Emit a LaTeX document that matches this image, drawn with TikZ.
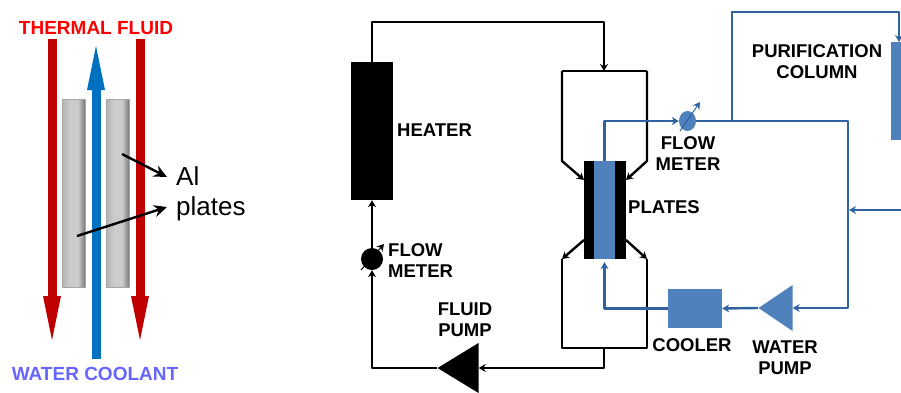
\documentclass[tikz,border=0pt]{standalone}
\usepackage{fontspec}
\setmainfont{Liberation Sans}
\usetikzlibrary{arrows.meta,shapes.geometric}
\definecolor{fillblue}{HTML}{4F81BD}
\definecolor{lineblue}{HTML}{2F629F}
\definecolor{hotred}{HTML}{C00000}
\definecolor{coldblue}{HTML}{0070C0}
\definecolor{coolantlabel}{HTML}{6666FF}
\pgfdeclarehorizontalshading{platemetal}{100bp}{color(0bp)=(gray!60); color(25bp)=(gray!60); color(42bp)=(gray!40); color(60bp)=(gray!40); color(75bp)=(gray!95!black); color(100bp)=(gray!95!black)}
\tikzstyle{lbl} = [font=\fontsize{18.5}{21}\selectfont\bfseries, inner sep=0pt, align=center]
\tikzstyle{solid box} = [rectangle, draw=none, inner sep=0pt]
\tikzstyle{pump} = [isosceles triangle, isosceles triangle stretches, shape border rotate=180, draw=none, inner sep=0pt, anchor=apex]
\tikzstyle{plate} = [rectangle, draw=gray!70, line width=1pt, inner sep=0pt, minimum width=23pt, minimum height=188pt, shading=platemetal]
\tikzstyle{bigarrow} = [line width=9pt, line join=miter, -{Triangle[length=44pt,width=18pt,line width=0pt]}]
\tikzstyle{pointer} = [line width=2.4pt, -{Stealth[length=13pt,width=12pt]}]
\tikzstyle{hot} = [black, line width=2.4pt]
\tikzstyle{cold} = [lineblue, line width=2.4pt]

\begin{document}
\begin{tikzpicture}[x=1pt,y=-1pt,->,>={Stealth[length=7pt,width=8pt]},line join=round]
  \clip (0,0) rectangle (901,392);

  % left sketch
  \node[plate] (plate_L) at (73.5,193) {};
  \node[plate] (plate_R) at (117.5,193) {};
  \coordinate (red_L_top) at (52,39);
  \coordinate (red_L_tip) at (52,340);
  \coordinate (red_R_top) at (140,39);
  \coordinate (red_R_tip) at (140,340);
  \coordinate (cool_low) at (96,359);
  \coordinate (cool_tip) at (96,46);
  \draw[bigarrow,hotred] (red_L_top) -- (red_L_tip);
  \draw[bigarrow,hotred] (red_R_top) -- (red_R_tip);
  \draw[bigarrow,coldblue] (cool_low) -- (cool_tip);
  \node[lbl,text=red,font=\fontsize{19}{21}\selectfont\bfseries] (thermal) at (96,28) {THERMAL FLUID};
  \node[lbl,text=coolantlabel,font=\fontsize{19}{21}\selectfont\bfseries] (coolant) at (95,374) {WATER COOLANT};
  \node[inner sep=0pt,anchor=west,align=left,font=\fontsize{26}{30}\selectfont] (al) at (176,194) {Al\\plates};
  \coordinate (al_up) at (122,154);
  \coordinate (al_low) at (77,236);
  \draw[pointer] (al_up) -- (167,177);
  \draw[pointer] (al_low) -- (167,207);

  % fluid loop
  \node[solid box,fill=black,minimum width=42pt,minimum height=138pt] (heater) at (372,131) {};
  \node[solid box,fill=black,minimum width=42pt,minimum height=98pt] (plates) at (605,210) {};
  \node[solid box,fill=fillblue,minimum width=21pt,minimum height=98pt] (plates_w) at (604.5,210) {};
  \node[circle,fill=black,inner sep=0pt,minimum size=22pt] (meter_f) at (372,259) {};
  \node[pump,fill=black,minimum width=50pt,minimum height=41pt] (pump_f) at (437,368) {};
  \coordinate (top_bend) at (604,22);
  \coordinate (man_top) at (604,71);
  \coordinate (man_tl) at (562,71);
  \coordinate (man_tr) at (647,71);
  \coordinate (man_ml) at (562,161);
  \coordinate (man_mr) at (647,161);
  \coordinate (in_l) at (584,180);
  \coordinate (in_r) at (626,180);
  \coordinate (out_l) at (584,240);
  \coordinate (out_r) at (626,240);
  \coordinate (man_bl) at (562,259);
  \coordinate (man_br) at (647,259);
  \coordinate (low_l) at (562,348);
  \coordinate (low_r) at (647,348);
  \coordinate (low_m) at (604,348);
  \coordinate (ret_bend) at (604,368);

  \draw[hot] (heater.north) |- (top_bend) -- (man_top);
  \draw[hot,-] (man_tl) -- (man_tr);
  \draw[hot] (man_tl) -- (man_ml) -- (in_l);
  \draw[hot] (man_tr) -- (man_mr) -- (in_r);
  \draw[hot] (out_l) -- (man_bl);
  \draw[hot] (out_r) -- (man_br);
  \draw[hot,-] (man_bl) -- (low_l) -- (low_r) -- (man_br);
  \draw[hot] (low_m) -- (ret_bend) -- (pump_f.east |- ret_bend);
  \draw[hot] (pump_f.apex) -| (meter_f.south);
  \draw[hot] (meter_f.north) -- (heater.south);
  \draw[black,line width=1pt] (361,270) -- (384,244);

  % water loop
  \node[solid box,fill=fillblue,minimum width=54pt,minimum height=39pt] (cooler) at (695,308.5) {};
  \node[pump,fill=fillblue,minimum width=46pt,minimum height=34pt] (pump_w) at (758,308) {};
  \node[solid box,fill=fillblue,minimum width=28pt,minimum height=98pt] (column) at (905,91) {};
  \node[ellipse,fill=fillblue,inner sep=0pt,minimum width=17pt,minimum height=20pt] (meter_w) at (687.5,121) {};
  \coordinate (split) at (732,121);
  \coordinate (far_bend) at (848,308);
  \coordinate (col_bend) at (899,12);
  \coordinate (col_in) at (899,42);
  \coordinate (col_out) at (901,210);
  \coordinate (back_in) at (849,210);
  \draw[cold] (plates_w.north) |- (meter_w.west);
  \draw[cold] (meter_w.east) -| (far_bend) -- (pump_w.east |- far_bend);
  \draw[cold] (pump_w.apex) -- (cooler.east);
  \draw[cold] (cooler.west) -| ([yshift=-3pt]plates_w.south);
  \draw[cold] (split) |- (col_bend) -- (col_in);
  \draw[cold] (col_out) -- (back_in);
  \draw[lineblue,line width=1pt] (680,131) -- (700,102);

  % labels
  \node[lbl,anchor=west] (l_heater) at (397,130) {HEATER};
  \node[lbl,anchor=west,align=left] (l_meter_f) at (388,261) {FLOW\\METER};
  \node[lbl] (l_pump_f) at (465,320) {FLUID\\PUMP};
  \node[lbl,anchor=west] (l_plates) at (628,207) {PLATES};
  \node[lbl] (l_meter_w) at (688,154) {FLOW\\METER};
  \node[lbl] (l_column) at (817,62) {PURIFICATION\\COLUMN};
  \node[lbl] (l_cooler) at (692,345) {COOLER};
  \node[lbl] (l_pump_w) at (785,358) {WATER\\PUMP};
\end{tikzpicture}
\end{document}
